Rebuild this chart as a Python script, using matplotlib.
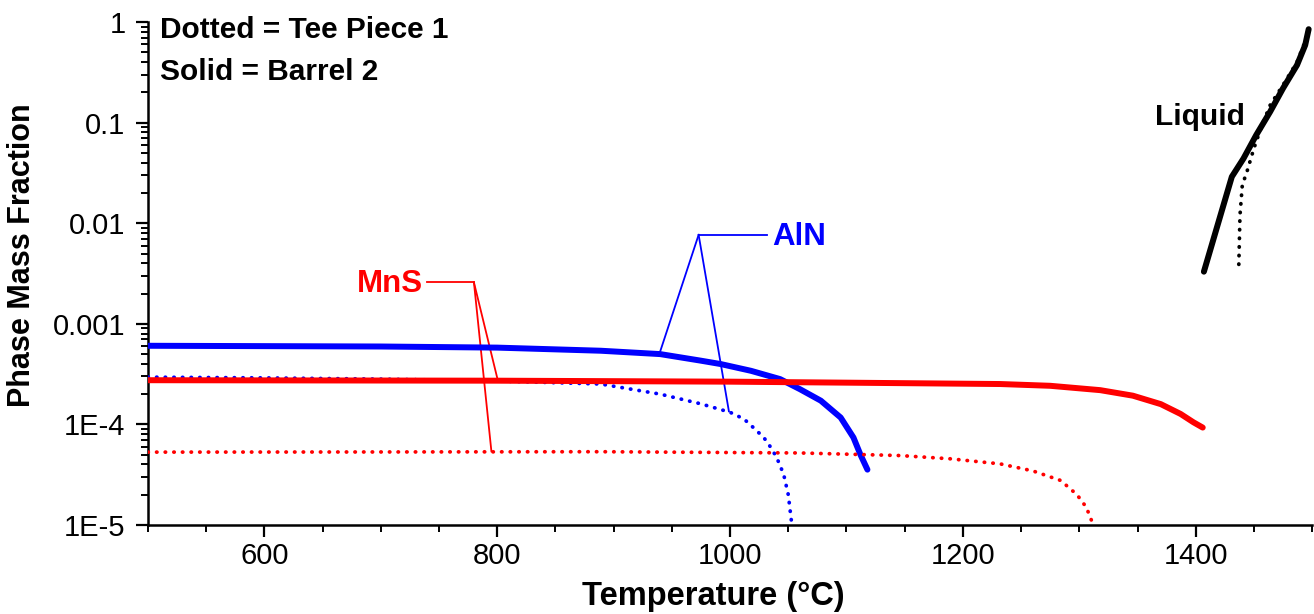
import numpy as np
import matplotlib
matplotlib.use("Agg")
import matplotlib.pyplot as plt
from matplotlib.ticker import MultipleLocator, LogLocator, FixedFormatter, NullFormatter

plt.rcParams["font.family"] = ["Liberation Sans", "DejaVu Sans"]

# AlN, Barrel 2 (solid)
aln_solid_t = [500, 600, 700, 800, 889, 940, 975, 992, 1018, 1043, 1060, 1078, 1095, 1106, 1112, 1118]
aln_solid_y = [6.05e-4, 6.0e-4, 5.95e-4, 5.8e-4, 5.4e-4, 5.0e-4, 4.3e-4, 3.98e-4, 3.41e-4, 2.82e-4,
               2.24e-4, 1.72e-4, 1.17e-4, 7.4e-5, 5.0e-5, 3.55e-5]

# AlN, Tee Piece 1 (dotted)
aln_dot_t = [500, 600, 700, 800, 889, 915, 940, 975, 1000, 1012, 1020, 1029, 1035, 1040, 1046, 1050, 1053]
aln_dot_y = [2.95e-4, 2.9e-4, 2.82e-4, 2.7e-4, 2.52e-4, 2.24e-4, 2.0e-4, 1.6e-4, 1.32e-4, 1.13e-4,
             9.3e-5, 7.4e-5, 5.9e-5, 4.7e-5, 3.2e-5, 2.0e-5, 1.02e-5]

# MnS, Barrel 2 (solid)
mns_solid_t = [500, 800, 1000, 1100, 1232, 1275, 1318, 1346, 1370, 1387, 1398, 1406]
mns_solid_y = [2.75e-4, 2.72e-4, 2.66e-4, 2.6e-4, 2.52e-4, 2.42e-4, 2.19e-4, 1.93e-4, 1.59e-4,
               1.27e-4, 1.05e-4, 9.3e-5]

# MnS, Tee Piece 1 (dotted)
mns_dot_t = [500, 700, 889, 1060, 1146, 1189, 1232, 1260, 1284, 1298, 1306, 1312]
mns_dot_y = [5.3e-5, 5.32e-5, 5.35e-5, 5.2e-5, 4.9e-5, 4.55e-5, 4.05e-5, 3.45e-5, 2.77e-5, 2.0e-5,
             1.5e-5, 1.0e-5]

# Liquid
liq_solid_t = [1407, 1431, 1441, 1452, 1464, 1475, 1487, 1494, 1497]
liq_solid_y = [3.3e-3, 0.029, 0.044, 0.0755, 0.129, 0.22, 0.374, 0.59, 0.85]
liq_dot_t = [1437, 1438, 1440, 1444, 1450, 1457, 1464, 1475, 1487, 1495, 1497.5]
liq_dot_y = [3.9e-3, 0.012, 0.024, 0.0326, 0.0557, 0.095, 0.15, 0.237, 0.40, 0.69, 0.85]

y_ticks = [1e-5, 1e-4, 1e-3, 1e-2, 1e-1, 1]
y_tick_labels = ["1E-5", "1E-4", "0.001", "0.01", "0.1", "1"]

BLUE = "#0000ff"
RED = "#ff0000"
DOTS = (0, (0.1, 2.2))

fig = plt.figure(figsize=(13.14, 6.14), dpi=100)
ax = fig.add_axes([0.1126, 0.145, 0.886, 0.819])

ax.plot(aln_solid_t, aln_solid_y, color=BLUE, lw=4.3, solid_capstyle="round", solid_joinstyle="round", zorder=3)
ax.plot(aln_dot_t, aln_dot_y, color=BLUE, lw=2.7, ls=DOTS, dash_capstyle="round", zorder=3)
ax.plot(mns_solid_t, mns_solid_y, color=RED, lw=4.3, solid_capstyle="round", solid_joinstyle="round", zorder=3)
ax.plot(mns_dot_t, mns_dot_y, color=RED, lw=2.7, ls=DOTS, dash_capstyle="round", zorder=3)
ax.plot(liq_solid_t, liq_solid_y, color="black", lw=4.3, solid_capstyle="round", solid_joinstyle="round", zorder=3)
ax.plot(liq_dot_t, liq_dot_y, color="black", lw=2.7, ls=DOTS, dash_capstyle="round", zorder=3)

ax.set_xlim(500, 1500)
ax.set_yscale("log")
ax.set_ylim(1e-5, 1)

ax.spines["top"].set_visible(False)
ax.spines["right"].set_visible(False)
for s in ("left", "bottom"):
    ax.spines[s].set_linewidth(1.8)

ax.xaxis.set_major_locator(MultipleLocator(200))
ax.xaxis.set_minor_locator(MultipleLocator(50))
ax.set_yticks(y_ticks)
ax.yaxis.set_major_formatter(FixedFormatter(y_tick_labels))
ax.yaxis.set_minor_locator(LogLocator(base=10, subs=np.arange(2, 10)))
ax.yaxis.set_minor_formatter(NullFormatter())
ax.tick_params(which="major", direction="out", length=8.6, width=1.6, labelsize=21)
ax.tick_params(which="minor", direction="out", length=5, width=1.4)
ax.tick_params(axis="x", which="major", pad=4)
ax.tick_params(axis="y", which="major", pad=7.5)

fig.text(713 / 1314, 1 - 597 / 614, "Temperature (\u00b0C)", fontsize=23.5, fontweight="bold",
         ha="center", va="center")
fig.text(22 / 1314, 1 - 255 / 614, "Phase Mass Fraction", fontsize=22, fontweight="bold",
         ha="center", va="center", rotation=90)

fig.text(160 / 1314, 1 - 38 / 614, "Dotted = Tee Piece 1", fontsize=21.5, fontweight="bold",
         va="baseline", ha="left")
fig.text(160 / 1314, 1 - 80 / 614, "Solid = Barrel 2", fontsize=21.5, fontweight="bold",
         va="baseline", ha="left")

# AlN callout
ax.text(1036, 7.3e-3, "AlN", color=BLUE, fontsize=22.5, fontweight="bold", va="center", ha="left")
ax.plot([1032, 973], [7.67e-3, 7.67e-3], color=BLUE, lw=1.3)
ax.plot([973, 940], [7.67e-3, 5.32e-4], color=BLUE, lw=1.3)
ax.plot([973, 999], [7.67e-3, 1.35e-4], color=BLUE, lw=1.3)

# MnS callout
ax.text(736, 2.5e-3, "MnS", color=RED, fontsize=22.5, fontweight="bold", va="center", ha="right")
ax.plot([740, 780], [2.58e-3, 2.58e-3], color=RED, lw=1.3)
ax.plot([780, 800], [2.58e-3, 2.9e-4], color=RED, lw=1.3)
ax.plot([780, 795], [2.58e-3, 5.4e-5], color=RED, lw=1.3)

# Liquid label
ax.text(1442, 0.114, "Liquid", color="black", fontsize=21.5, fontweight="bold", va="center", ha="right")

fig.savefig("out.png", dpi=100)
